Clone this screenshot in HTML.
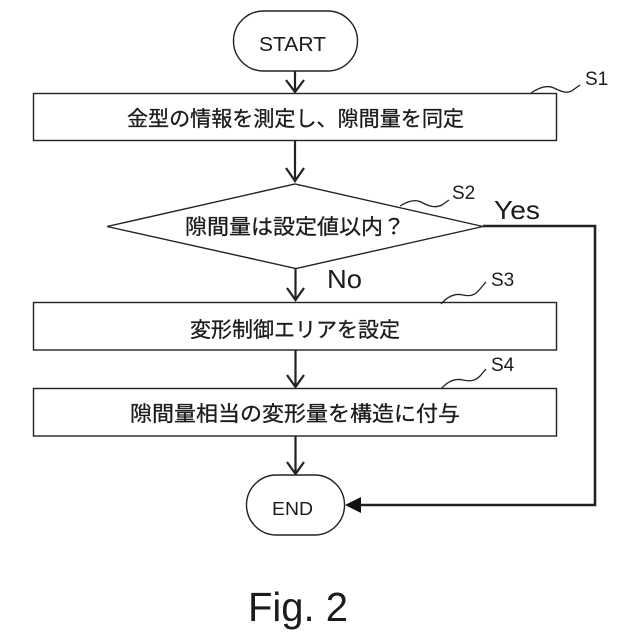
<!DOCTYPE html>
<html lang="ja">
<head>
<meta charset="utf-8">
<style>
html,body{margin:0;padding:0;background:#fff;width:640px;height:640px;overflow:hidden}
svg{display:block}
text{fill:#1c1c1c;font-family:"Liberation Sans","Noto Sans CJK JP",sans-serif}
.jp{font-size:21px;text-anchor:start;stroke:#1c1c1c;stroke-width:.3px}
</style>
</head>
<body>
<svg width="640" height="640" viewBox="0 0 640 640" xmlns="http://www.w3.org/2000/svg">
<rect width="640" height="640" fill="#fff"/>
<g fill="#fff" stroke="#222" stroke-width="1.4">
  <rect x="233.500" y="11" width="124" height="60" rx="30" ry="30"/>
  <rect x="33.500" y="93.500" width="523" height="47"/>
  <polygon points="107,226.500 295,184 483,226.500 296,268.500"/>
  <rect x="33.500" y="302.500" width="523" height="47.500"/>
  <rect x="33.500" y="388.500" width="523" height="47.500"/>
  <rect x="246.500" y="475" width="98" height="60" rx="30" ry="30"/>
</g>
<g fill="none" stroke="#222" stroke-width="2.200">
  <path d="M295 71V92M286 80L295 92L304 80"/>
  <path d="M295 140V182M286 168L295 181L304 168"/>
  <path d="M295.500 268V301M287 288L295.500 300L304 288"/>
  <path d="M295.500 350V387M287 375L295.500 387L304 375"/>
  <path d="M295.500 436V474M287 462L295.500 474L304 462"/>
  <path d="M483 226H595V505H360" stroke-width="2.600"/>
</g>
<polygon points="345,505 361,497 361,513" fill="#111"/>
<g fill="none" stroke="#222" stroke-width="1.300">
  <path d="M531 93C540 87 548 85 554 88C562 92 568 94 573 90L580 85"/>
  <path d="M400 206C408 201 415 199 421 202C430 207 436 208 442 205L449 200"/>
  <path d="M441 304C448 296 455 293 463 295C472 297 476 294 480 289L486 282"/>
  <path d="M441 389C448 381 455 378 463 380C472 382 476 380 480 376L486 369"/>
</g>
<text x="259" y="51" font-size="20" textLength="67" lengthAdjust="spacingAndGlyphs">START</text>
<text class="jp" x="127" y="126" textLength="337" lengthAdjust="spacingAndGlyphs">金型の情報を測定し、隙間量を同定</text>
<text class="jp" x="185" y="234" textLength="220" lengthAdjust="spacingAndGlyphs">隙間量は設定値以内？</text>
<text class="jp" x="190" y="337" textLength="210" lengthAdjust="spacingAndGlyphs">変形制御エリアを設定</text>
<text class="jp" x="130" y="421" textLength="330" lengthAdjust="spacingAndGlyphs">隙間量相当の変形量を構造に付与</text>
<text x="272" y="515" font-size="18" textLength="41" lengthAdjust="spacingAndGlyphs">END</text>
<text x="585" y="85" font-size="19">S1</text>
<text x="452" y="199" font-size="19">S2</text>
<text x="491" y="286" font-size="19">S3</text>
<text x="491" y="371" font-size="19">S4</text>
<text x="494" y="219" font-size="26" textLength="46" lengthAdjust="spacingAndGlyphs">Yes</text>
<text x="327" y="288" font-size="26" textLength="35" lengthAdjust="spacingAndGlyphs">No</text>
<text x="248" y="621" font-size="41" textLength="100" lengthAdjust="spacingAndGlyphs">Fig. 2</text>
</svg>
</body>
</html>
